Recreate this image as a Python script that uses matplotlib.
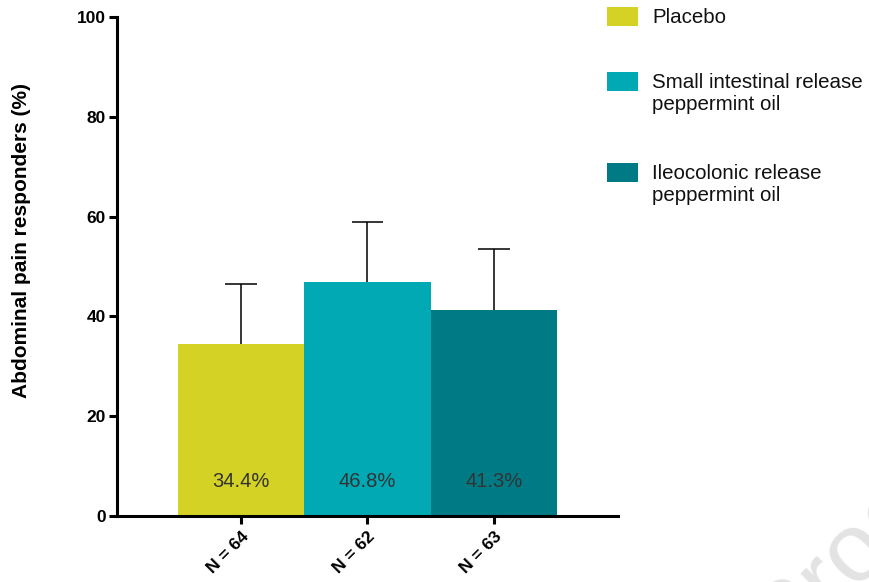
import matplotlib.pyplot as plt
from matplotlib.patches import Rectangle

# responder rates (%) with upper error bars
groups = ['Placebo', 'Small intestinal release\npeppermint oil', 'Ileocolonic release\npeppermint oil']
n_labels = ['N = 64', 'N = 62', 'N = 63']
responders = [34.4, 46.8, 41.3]
err_up = [12.1, 12.1, 12.2]
colours = ['#D4D224', '#00A9B4', '#007B85']

plt.rcParams['font.family'] = ['Liberation Sans', 'DejaVu Sans']

fig = plt.figure(figsize=(8.7, 5.82), dpi=100)
ax = fig.add_axes([0.1345, 0.1134, 0.5755, 0.8574])

x = list(range(len(responders)))
ax.bar(x, responders, width=1.0, color=colours, edgecolor='none', zorder=2)

# one-sided error bars: stem from bar top up to the cap only
tops = [v + e for v, e in zip(responders, err_up)]
ax.vlines(x, responders, tops, color='black', linewidth=1.1, zorder=3)
ax.hlines(tops, [xi - 0.125 for xi in x], [xi + 0.125 for xi in x],
          color='black', linewidth=1.1, zorder=3)

# value labels near the base of each bar
for xi, v in zip(x, responders):
    ax.text(xi, 7, f'{v}%', ha='center', va='center', fontsize=14.5, color='#333333', zorder=4)

ax.set_xlim(-0.98, 2.98)
ax.set_ylim(0, 100)
ax.set_yticks([0, 20, 40, 60, 80, 100])
ax.set_xticks(x)
ax.set_xticklabels(n_labels, rotation=45, ha='right', va='top', rotation_mode='anchor',
                   fontsize=12.5, fontweight='bold')
for lab in ax.get_yticklabels():
    lab.set_fontweight('bold')
    lab.set_fontsize(12.5)
ax.tick_params(axis='both', direction='out', length=6, width=2.2, pad=2)
ax.tick_params(axis='x', pad=3)

for side in ['top', 'right']:
    ax.spines[side].set_visible(False)
for side in ['left', 'bottom']:
    ax.spines[side].set_linewidth(2.2)

ax.set_ylabel('Abdominal pain responders (%)', fontsize=15, fontweight='bold')
ax.yaxis.set_label_coords(-0.172, 0.553)

# legend drawn by hand on the right
legend_y = [16, 81, 172]
for lab, col, yp in zip(groups, colours, legend_y):
    fy = 1 - yp / 582
    fig.patches.append(Rectangle((607 / 870, fy - 9.5 / 582), 31 / 870, 19 / 582,
                                 transform=fig.transFigure, facecolor=col, edgecolor='none'))
    fig.text(652 / 870, fy + 8 / 582, lab, ha='left', va='top', fontsize=14.8,
             color='#111111', linespacing=1.2)

# faint watermark
fig.text(735 / 870, -86 / 582, 'Proof', rotation=45, fontsize=70, color='#e3e3e3',
         ha='left', va='bottom', zorder=0)

fig.savefig('out.png', dpi=100)
